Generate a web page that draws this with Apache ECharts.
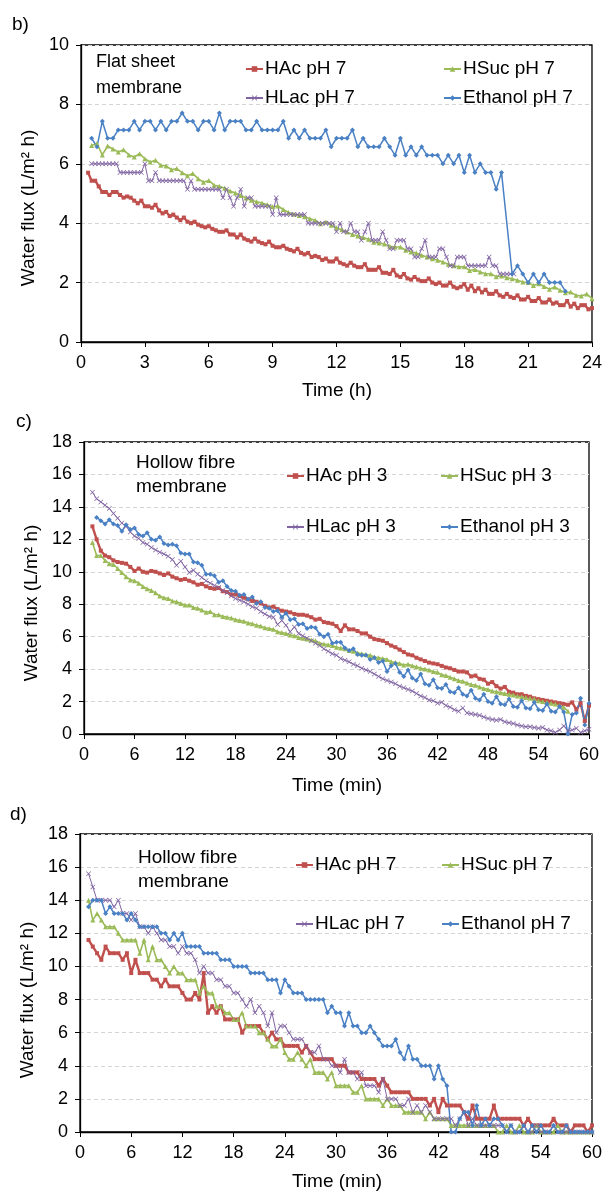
<!DOCTYPE html>
<html>
<head>
<meta charset="utf-8">
<script src="https://cdn.jsdelivr.net/npm/echarts@6/dist/echarts.min.js"></script>
<style>
html,body{margin:0;padding:0;background:#fff;}
#chart{width:605px;height:1193px;}
</style>
</head>
<body>
<div id="chart"></div>
<script>
// ---------- DATA ----------
// Panel b (flat sheet, time in h)
const bNames = ['HAc pH 7', 'HSuc pH 7', 'HLac pH 7', 'Ethanol pH 7'];
const bXTicks = [0, 3, 6, 9, 12, 15, 18, 21, 24];
const bYTicks = [0, 2, 4, 6, 8, 10];
// sampling: [start, step] in hours
const bHAcTime = [1/3, 1/6];
const bHAc = [5.70,5.43,5.43,5.24,
 5.05,5.05,4.95,5.05,5.05,4.95,
 4.86,4.90,4.86,4.76,4.67,4.76,
 4.57,4.57,4.52,4.62,4.43,4.33,
 4.38,4.24,4.29,4.19,4.10,4.19,
 4.05,4.00,4.05,3.95,3.90,3.86,
 3.90,3.81,3.76,3.71,3.71,3.76,
 3.62,3.62,3.52,3.62,3.48,3.43,
 3.38,3.48,3.38,3.33,3.29,3.38,
 3.24,3.19,3.19,3.24,3.14,3.10,
 3.05,3.14,3.00,2.95,3.00,2.86,
 2.90,2.86,2.76,2.81,2.71,2.71,
 2.81,2.67,2.62,2.57,2.67,2.57,
 2.52,2.52,2.62,2.43,2.43,2.43,
 2.52,2.33,2.33,2.29,2.43,2.24,
 2.19,2.29,2.14,2.10,2.19,2.10,
 2.05,2.05,2.14,2.00,1.95,2.00,
 1.90,1.90,2.00,1.86,1.81,1.86,
 1.95,1.76,1.90,1.71,1.81,1.67,
 1.76,1.62,1.62,1.71,1.57,1.52,
 1.62,1.52,1.48,1.57,1.43,1.43,
 1.52,1.38,1.38,1.48,1.33,1.33,
 1.43,1.29,1.33,1.24,1.24,1.38,
 1.19,1.29,1.14,1.24,1.24,1.10,
 1.14];
const bHSucTime = [0.5, 0.25];
const bHSuc = [6.62,6.68,6.30,6.60,6.50,6.40,6.47,6.30,6.23,6.34,
 6.17,6.06,6.12,5.95,5.93,5.80,5.84,5.70,5.60,5.67,
 5.50,5.38,5.44,5.28,5.24,5.18,5.08,5.02,4.93,4.85,
 4.77,4.72,4.68,4.62,4.55,4.58,4.46,4.36,4.30,4.26,
 4.22,4.15,4.10,3.98,4.04,3.93,3.85,3.78,3.70,3.62,
 3.57,3.52,3.46,3.36,3.33,3.30,3.22,3.20,3.20,3.09,
 3.03,3.00,2.92,2.86,2.80,2.75,2.69,2.62,2.57,2.53,
 2.53,2.41,2.44,2.36,2.30,2.30,2.20,2.22,2.16,2.13,
 2.08,2.02,2.00,1.90,1.96,1.87,1.78,1.85,1.74,1.66,
 1.68,1.57,1.55,1.62,1.46];
const bHLacTime = [0.5, 1/6];
const bHLac = [6.0,6.0,6.0,
 6.0,6.0,6.0,6.0,6.0,5.71,
 5.71,5.71,5.71,5.71,5.71,5.71,
 6.0,5.43,5.43,5.71,5.43,5.43,
 5.43,5.43,5.43,5.43,5.43,5.43,
 5.14,5.43,5.14,5.14,5.14,5.14,
 5.14,5.14,5.14,5.14,4.86,5.14,
 4.86,4.57,4.86,5.14,4.57,4.86,
 4.86,4.57,4.57,4.57,4.57,4.57,
 4.29,4.86,4.29,4.29,4.29,4.29,
 4.29,4.29,4.29,4.29,4.0,4.0,
 4.0,4.0,4.0,4.0,4.0,4.0,
 3.71,4.0,3.71,3.71,4.0,3.71,
 3.71,3.43,3.71,4.0,3.43,3.43,
 3.43,3.71,3.43,3.14,3.14,3.43,
 3.43,3.43,3.14,3.14,2.86,2.86,
 3.14,3.43,2.86,2.86,2.86,3.14,
 3.14,2.86,2.57,2.57,2.86,2.86,
 2.86,2.57,2.57,2.57,2.57,2.57,
 2.57,2.86,2.57,2.57,2.29,2.29,
 2.29,2.29,2.29];
const bEthTime = [0.5, 0.25];
const bEth = [6.86,6.57,7.43,6.86,6.86,7.14,7.14,7.14,7.43,7.14,
 7.43,7.43,7.14,7.43,7.14,7.43,7.43,7.71,7.43,7.43,
 7.14,7.43,7.43,7.14,7.71,7.14,7.43,7.43,7.43,7.14,
 7.14,7.43,7.14,7.14,7.14,7.14,7.43,6.86,7.14,6.86,
 7.14,6.86,6.86,6.86,7.14,6.57,6.86,6.86,6.86,7.14,
 6.57,6.86,6.57,6.57,6.57,6.86,6.57,6.29,6.86,6.29,
 6.57,6.29,6.57,6.29,6.29,6.29,6.0,6.29,6.0,6.29,
 5.71,6.29,5.71,6.0,5.71,5.71,5.14,5.71,null,2.29,
 2.57,2.29,2.0,2.29,2.0,2.29,2.0,2.0,2.0,1.71];

// Panel c (hollow fibre, pH 3, time in min)
const cNames = ['HAc pH 3', 'HSuc pH 3', 'HLac pH 3', 'Ethanol pH 3'];
const minXTicks = [0, 6, 12, 18, 24, 30, 36, 42, 48, 54, 60];
const minYTicks = [0, 2, 4, 6, 8, 10, 12, 14, 16, 18];
const cHAcTime = [1, 0.5];
const cHAc = [12.8,12.0,11.3,11.0,10.9,10.7,
 10.6,10.55,10.5,10.3,10.05,10.2,
 10.0,9.95,10.05,10.0,9.9,9.8,
 9.9,9.7,9.6,9.5,9.55,9.45,
 9.35,9.2,9.25,9.1,9.0,8.95,
 9.0,8.8,8.75,8.6,8.6,8.5,
 8.4,8.3,8.2,8.15,8.05,7.9,
 7.8,7.85,7.7,7.6,7.55,7.5,
 7.4,7.35,7.35,7.3,7.2,7.05,
 7.1,6.9,6.85,6.8,6.65,6.35,
 6.7,6.45,6.45,6.35,6.2,6.2,
 6.0,5.85,5.8,5.75,5.6,5.45,
 5.35,5.2,5.05,4.9,4.85,4.7,
 4.6,4.5,4.4,4.35,4.3,4.2,
 4.1,4.05,3.95,3.85,3.85,3.8,
 3.55,3.6,3.4,3.35,3.1,3.2,
 2.95,2.8,2.9,2.6,2.55,2.45,
 2.45,2.35,2.3,2.2,2.15,2.1,
 2.05,2.0,1.95,1.9,1.85,1.8,
 1.95,1.5,1.9,0.8,1.75];
const cHSucTime = [1, 0.5];
const cHSuc = [11.8,11.0,11.0,10.7,10.5,10.45,
 10.2,9.95,9.7,9.5,9.45,9.3,
 9.1,8.95,8.85,8.7,8.5,8.4,
 8.35,8.2,8.15,8.05,7.95,7.95,
 7.8,7.75,7.65,7.5,7.55,7.35,
 7.35,7.25,7.2,7.15,7.05,7.0,
 6.95,6.85,6.8,6.7,6.65,6.55,
 6.5,6.45,6.3,6.25,6.2,6.1,
 6.05,5.95,5.9,5.85,5.8,5.75,
 5.6,5.55,5.5,5.45,5.35,5.3,
 5.25,5.15,5.1,5.0,4.95,4.9,
 4.85,4.75,4.7,4.65,4.6,4.45,
 4.4,4.35,4.25,4.3,4.2,4.15,
 4.05,4.0,3.95,3.85,3.8,3.65,
 3.6,3.5,3.4,3.3,3.25,3.15,
 3.05,3.0,2.9,2.8,2.75,2.65,
 2.6,2.55,2.5,2.45,2.4,2.35,
 2.3,2.25,2.2,2.15,2.05,2.0,
 1.95,1.9,1.85,1.75,1.65,1.4];
const cHLacTime = [1, 0.5];
const cHLac = [14.9,14.5,14.3,14.1,13.9,13.6,
 13.3,13.0,12.8,12.45,12.2,12.05,
 11.8,11.7,11.5,11.35,11.2,11.1,
 10.95,10.75,10.4,10.65,10.3,9.95,
 10.1,9.85,9.65,9.45,9.3,9.15,
 9.05,8.85,8.7,8.5,8.35,8.25,
 8.15,8.0,7.85,7.75,7.55,7.4,
 7.25,7.2,6.75,7.0,6.7,6.3,
 6.6,6.2,6.05,5.9,5.75,5.6,
 5.45,5.25,5.1,4.95,4.85,4.65,
 4.55,4.45,4.3,4.2,4.05,3.95,
 3.85,3.7,3.55,3.4,3.3,3.2,
 3.1,2.95,2.85,2.75,2.65,2.5,
 2.35,2.25,2.1,2.05,1.9,1.95,
 1.75,1.65,1.5,1.4,1.6,1.3,
 1.25,1.2,1.15,1.05,0.95,0.9,
 0.85,0.9,0.75,0.7,0.65,0.55,
 0.5,0.45,0.45,0.4,0.35,0.4,
 0.25,0.2,0.1,0.25,0.5,0.2,
 0.25,0.35,0.1,0.2,0.3];
const cEthTime = [1.5, 0.5];
const cEth = [13.35,13.15,12.95,13.2,12.95,
 12.85,12.5,12.9,12.6,12.7,12.3,
 12.2,12.4,12.0,11.95,12.15,11.75,
 11.65,11.7,11.6,11.15,11.1,11.1,
 10.6,10.55,10.4,9.85,9.85,9.75,
 9.35,9.45,9.1,8.85,8.8,8.55,
 8.6,8.3,8.45,8.05,8.15,7.8,
 7.75,7.55,7.6,7.2,7.45,7.05,
 7.1,6.75,6.8,6.5,6.6,6.55,
 6.15,6.0,6.15,5.6,5.65,5.65,
 5.3,5.15,5.25,4.9,4.85,4.85,
 4.6,4.7,4.4,4.5,3.85,4.2,
 4.35,3.8,3.55,3.95,3.45,3.3,
 3.7,3.1,3.0,3.35,2.85,2.8,
 3.05,2.6,2.55,2.85,2.45,2.35,
 2.7,2.2,2.1,2.45,2.0,1.9,
 2.3,1.85,1.8,2.15,1.7,1.65,
 2.05,1.6,1.55,1.95,1.5,1.45,
 1.85,1.4,1.35,1.7,1.35,0.0,
 1.2,1.3,2.2,0.55,1.9];

// Panel d (hollow fibre, pH 7, time in min)
const dNames = ['HAc pH 7', 'HSuc pH 7', 'HLac pH 7', 'Ethanol pH 7'];
const dTime = [1, 0.5];
const dHAc = [11.6,11.2,10.8,10.4,11.2,10.8,
 10.8,10.8,10.4,10.8,9.6,10.4,
 9.6,9.6,9.6,9.2,9.2,8.8,
 9.2,8.8,8.8,8.8,8.4,8.0,
 8.0,8.4,8.0,9.6,7.2,7.6,
 7.2,7.6,6.8,6.8,6.8,6.8,
 6.0,6.4,6.4,6.4,6.4,6.0,
 5.6,6.0,5.6,5.6,5.2,5.2,
 5.2,5.2,4.8,5.2,4.8,4.4,
 4.4,4.4,4.4,4.4,4.0,4.0,
 4.0,3.6,3.6,3.6,3.2,3.2,
 3.2,3.2,2.8,3.2,2.8,2.4,
 2.4,2.4,2.4,2.4,2.0,2.0,
 2.0,2.0,1.6,2.0,1.2,2.0,
 1.6,1.6,1.6,1.6,1.2,0.8,
 1.6,0.8,0.8,0.8,0.8,1.6,
 0.8,0.8,0.8,0.8,0.8,0.8,
 0.4,0.8,0.4,0.4,0.4,0.4,
 0.4,0.8,0.4,0.4,0.4,0.0,
 0.4,0.4,0.4,0.0,0.4];
const dHSuc = [14.0,12.8,13.2,12.8,12.4,12.4,
 12.4,12.0,11.6,11.6,11.6,11.6,
 10.8,11.6,10.4,11.2,10.4,10.4,
 10.0,9.6,10.0,9.6,9.6,9.2,
 9.2,9.2,8.4,8.8,8.4,8.4,
 7.6,7.6,7.2,7.2,6.8,6.8,
 7.2,6.4,6.4,6.4,6.0,6.0,
 5.6,5.2,5.2,5.6,4.8,4.4,
 4.4,4.8,4.4,4.0,4.4,3.6,
 3.6,3.6,3.2,3.6,2.8,2.8,
 2.8,2.8,2.4,2.4,2.8,2.0,
 2.0,2.0,2.0,1.6,2.0,1.6,
 1.6,1.6,1.2,1.2,1.2,1.2,
 1.2,0.8,1.2,0.8,0.8,0.8,
 0.8,0.4,0.4,0.4,0.4,0.4,
 0.4,0.4,0.4,0.4,0.4,0.4,
 0.0,0.0,0.4,0.0,0.0,0.4,
 0.0,0.0,0.0,0.4,0.0,0.0,
 0.0,0.0,0.4,0.0,0.0,0.0,
 0.0,0.0,0.0,0.0,0.0];
const dHLac = [15.6,14.8,14.0,14.0,14.0,14.0,
 13.6,14.0,13.2,13.2,12.8,13.2,
 12.4,12.4,12.0,12.4,12.0,11.6,
 11.6,11.2,11.2,10.8,11.2,10.8,
 10.8,10.4,9.6,10.0,9.6,9.6,
 9.2,9.2,8.8,8.8,8.4,8.4,
 8.0,7.6,8.0,7.2,7.6,7.2,
 6.4,7.2,6.0,6.4,6.4,6.0,
 5.6,5.6,5.6,5.2,4.8,4.8,
 5.2,4.4,4.4,4.0,4.0,3.6,
 4.4,3.6,3.6,3.2,3.6,2.8,
 2.8,2.8,2.4,3.2,2.0,2.0,
 2.0,1.6,1.6,2.0,1.2,1.6,
 1.2,1.6,1.2,0.8,0.8,0.8,
 0.8,0.8,0.4,0.8,1.2,0.4,
 0.8,0.4,0.4,0.4,0.4,0.4,
 0.4,0.4,0.0,0.4,0.0,0.0,
 0.4,0.0,0.0,0.4,0.0,0.0,
 0.0,0.4,0.0,0.0,0.0,0.0,
 0.0,0.0,0.0,0.0,0.0];
const dEth = [13.6,14.0,14.0,14.0,13.2,13.6,
 13.2,13.2,13.2,12.8,13.2,12.8,
 12.4,12.4,12.4,12.4,12.4,12.0,
 12.0,11.6,12.0,11.6,12.0,11.2,
 11.2,11.2,11.2,10.8,10.8,10.8,
 10.8,10.4,10.4,10.4,10.0,10.0,
 10.0,10.0,9.6,9.6,9.6,9.6,
 9.2,9.2,9.2,8.4,9.2,8.8,
 8.4,8.4,8.4,8.0,8.0,8.0,
 8.0,8.0,7.2,7.6,7.2,7.2,
 6.4,7.2,6.4,6.4,6.0,6.0,
 6.4,6.0,5.6,5.2,5.2,5.2,
 5.6,4.8,4.4,5.2,4.4,4.4,
 4.0,4.0,4.0,3.2,4.0,3.2,
 2.8,0.0,0.0,0.8,1.2,1.2,
 0.4,1.6,0.4,0.8,0.4,0.8,
 0.8,0.4,0.0,0.4,0.0,0.0,
 0.4,0.0,0.4,0.0,0.4,0.0,
 0.0,0.4,0.0,0.0,0.4,0.0,
 0.0,0.0,0.0,0.0,0.0];

// ---------- CHART ----------
const FONT = '"Liberation Sans", Arial, Helvetica, sans-serif';
const TXT = '#000';
const COL = {hac: '#C0504D', hsuc: '#9BBB59', hlac: '#8064A2', eth: '#4A80C4'};
const XSYM = 'path://M0,1L1,0L5,4L9,0L10,1L6,5L10,9L9,10L5,6L1,10L0,9L4,5Z';

function pts(vals, t) {
  return vals.map((v, i) => [+(t[0] + i * t[1]).toFixed(4), v == null ? '-' : v]);
}
const STY = {
  hac:  {symbol: 'rect', symbolSize: 4, lineStyle: {width: 2.4, color: COL.hac}, itemStyle: {color: COL.hac}},
  hsuc: {symbol: 'triangle', symbolSize: 5, lineStyle: {width: 1.6, color: COL.hsuc}, itemStyle: {color: COL.hsuc}},
  hlac: {symbol: XSYM, symbolSize: 5, lineStyle: {width: 1, color: COL.hlac}, itemStyle: {color: COL.hlac}},
  eth:  {symbol: 'diamond', symbolSize: 5, lineStyle: {width: 1.5, color: COL.eth}, itemStyle: {color: COL.eth}}
};
function ser(name, key, vals, t, gi) {
  return Object.assign({
    type: 'line', name: name, xAxisIndex: gi, yAxisIndex: gi,
    data: pts(vals, t), connectNulls: true, animation: false,
    showSymbol: true, emphasis: {disabled: true}
  }, STY[key]);
}

const grids = [
  {left: 81, top: 45, width: 512, height: 297},
  {left: 84, top: 442, width: 505, height: 292},
  {left: 80, top: 834, width: 513, height: 298}
];
const gridOpt = grids.map(g => Object.assign({show: true, borderColor: '#000', borderWidth: 1.3, backgroundColor: 'transparent', containLabel: false}, g));

function xAx(gi, ticks) {
  return {
    type: 'value', gridIndex: gi, min: ticks[0], max: ticks[ticks.length - 1], interval: ticks[1] - ticks[0],
    axisLine: {show: true, lineStyle: {color: '#000', width: 1.3}},
    axisTick: {show: true, length: 5, lineStyle: {color: '#000', width: 1}},
    axisLabel: {fontSize: 18, color: TXT, fontFamily: FONT, margin: 12},
    splitLine: {show: false}
  };
}
function yAx(gi, ticks) {
  return {
    type: 'value', gridIndex: gi, min: ticks[0], max: ticks[ticks.length - 1], interval: ticks[1] - ticks[0],
    axisLine: {show: true, lineStyle: {color: '#000', width: 1.3}},
    axisTick: {show: true, length: 5, lineStyle: {color: '#000', width: 1}},
    axisLabel: {fontSize: 18, color: TXT, fontFamily: FONT, margin: 12},
    splitLine: {show: true, lineStyle: {color: '#d4d4d4', width: 1, type: [4, 3]}}
  };
}

function leg(name, left, yc) {
  return {
    data: [name], left: left, top: yc - 3.5, padding: 0, itemGap: 0,
    itemWidth: 17, itemHeight: 7, selectedMode: false,
    textStyle: {fontSize: 19, color: TXT, fontFamily: FONT, padding: [0, 0, 0, -3]}
  };
}

function txt(s, x, y, size, opts) {
  return Object.assign({
    type: 'text', x: x, y: y, silent: true,
    style: Object.assign({text: s, fill: TXT, font: size + 'px ' + FONT, textAlign: 'left', textVerticalAlign: 'middle'}, (opts && opts.style) || {})
  }, (opts && opts.extra) || {});
}
function ytitle(x, y) {
  return {
    type: 'text', x: x, y: y, rotation: Math.PI / 2, silent: true,
    style: {text: 'Water flux (L/m² h)', fill: TXT, font: '19px ' + FONT, textAlign: 'center', textVerticalAlign: 'middle'}
  };
}
function xtitle(s, x, y) {
  return {
    type: 'text', x: x, y: y, silent: true,
    style: {text: s, fill: TXT, font: '19px ' + FONT, textAlign: 'center', textVerticalAlign: 'middle'}
  };
}

const option = {
  backgroundColor: '#fff',
  animation: false,
  grid: gridOpt,
  xAxis: [xAx(0, bXTicks), xAx(1, minXTicks), xAx(2, minXTicks)],
  yAxis: [yAx(0, bYTicks), yAx(1, minYTicks), yAx(2, minYTicks)],
  legend: [
    leg(bNames[0], 245, 63), leg(bNames[1], 443, 63), leg(bNames[2], 245, 92), leg(bNames[3], 443, 92),
    leg(cNames[0], 286, 470), leg(cNames[1], 440, 470), leg(cNames[2], 286, 521), leg(cNames[3], 440, 521),
    leg(dNames[0], 295, 859), leg(dNames[1], 441, 859), leg(dNames[2], 295, 918), leg(dNames[3], 441, 918)
  ],
  series: [
    ser(bNames[0], 'hac', bHAc, bHAcTime, 0),
    ser(bNames[1], 'hsuc', bHSuc, bHSucTime, 0),
    ser(bNames[2], 'hlac', bHLac, bHLacTime, 0),
    ser(bNames[3], 'eth', bEth, bEthTime, 0),
    ser(cNames[0], 'hac', cHAc, cHAcTime, 1),
    ser(cNames[1], 'hsuc', cHSuc, cHSucTime, 1),
    ser(cNames[2], 'hlac', cHLac, cHLacTime, 1),
    ser(cNames[3], 'eth', cEth, cEthTime, 1),
    ser(dNames[0], 'hac', dHAc, dTime, 2),
    ser(dNames[1], 'hsuc', dHSuc, dTime, 2),
    ser(dNames[2], 'hlac', dHLac, dTime, 2),
    ser(dNames[3], 'eth', dEth, dTime, 2)
  ],
  graphic: [
    txt('b)', 12, 25, 19),
    txt('c)', 16, 422, 19),
    txt('d)', 10, 815, 19),
    txt('Flat sheet', 96, 62, 18),
    txt('membrane', 96, 88, 18),
    txt('Hollow fibre', 136, 463, 19),
    txt('membrane', 136, 487, 19),
    txt('Hollow fibre', 138, 858, 19),
    txt('membrane', 138, 882, 19),
    ytitle(29, 208),
    ytitle(32, 603),
    ytitle(28, 1000),
    xtitle('Time (h)', 337, 391),
    xtitle('Time (min)', 337, 786),
    xtitle('Time (min)', 337, 1182)
  ]
};

const chart = echarts.init(document.getElementById('chart'), null, {renderer: 'canvas', width: 605, height: 1193});
chart.setOption(option);
</script>
</body>
</html>
